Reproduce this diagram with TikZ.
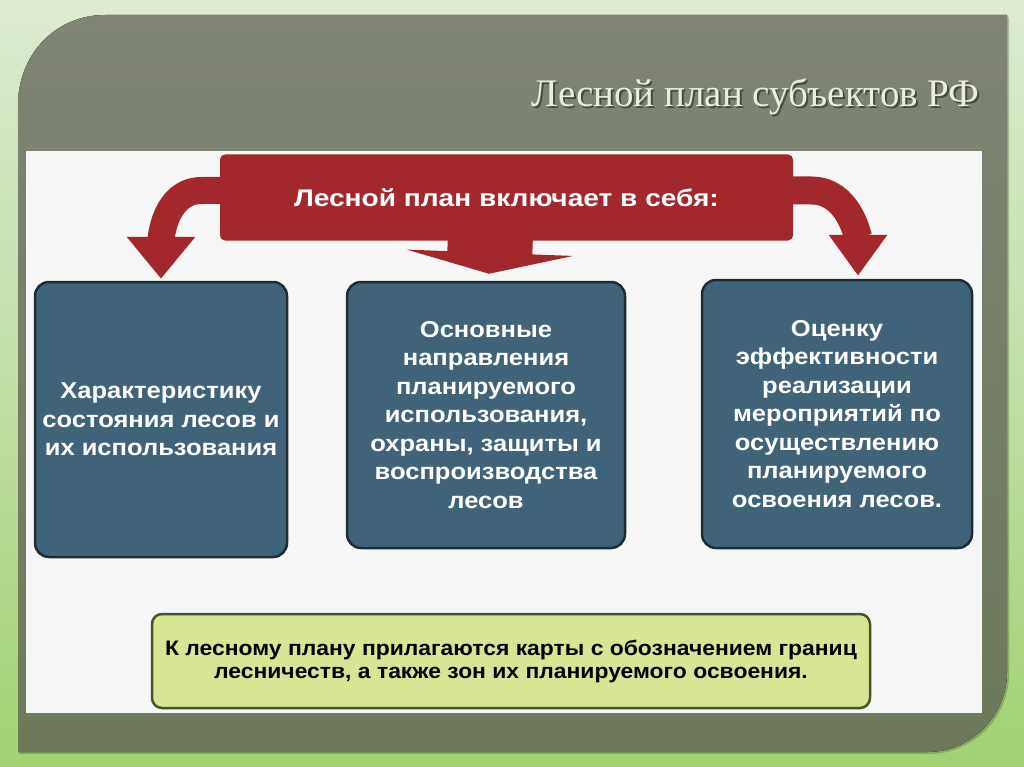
\documentclass[tikz,border=0pt]{standalone}
\usepackage{fontspec}
\setmainfont{Liberation Sans}
\newfontfamily\titlefont{Liberation Serif}
\newfontfamily\boxfont[FakeStretch=1.11]{Liberation Sans}
\newfontfamily\bannerfont[FakeStretch=1.17]{Liberation Sans}
\newfontfamily\notefont[FakeStretch=1.09]{Liberation Sans}
\usetikzlibrary{arrows.meta}
\definecolor{bgtop}{HTML}{DDEBD3}
\definecolor{bgbot}{HTML}{A3D173}
\definecolor{paneltop}{HTML}{7F8476}
\definecolor{panelbot}{HTML}{6E795B}
\definecolor{sheet}{HTML}{F7F7F7}
\definecolor{redc}{HTML}{A2282B}
\definecolor{bluec}{HTML}{3F6479}
\definecolor{blueborder}{HTML}{1E2B33}
\definecolor{greenc}{HTML}{D7E693}
\definecolor{greenborder}{HTML}{44532C}
\definecolor{titlec}{HTML}{EBEDE2}
\definecolor{titleshadow}{HTML}{2F332A}
\tikzset{
  bluebox/.style={draw=blueborder, line width=2.5pt, fill=bluec, rounded corners=14pt,
    text=white, align=center, inner sep=0pt,
    font=\boxfont\bfseries\fontsize{23}{28.5}\selectfont},
  banner/.style={fill=redc, rounded corners=5pt, text=white, inner sep=0pt,
    minimum width=573pt, minimum height=86pt, font=\bannerfont\bfseries\fontsize{24}{28}\selectfont},
  notebox/.style={draw=greenborder, line width=2.5pt, fill=greenc, rounded corners=10pt,
    text=black, align=center, inner sep=0pt, minimum width=718pt, minimum height=94pt,
    font=\notefont\bfseries\fontsize{21}{23}\selectfont},
  redarrow/.style={draw=redc, line cap=butt}
}
\begin{document}
\begin{tikzpicture}[x=1pt,y=-1pt]
\useasboundingbox (0,0) rectangle (1024,767);
% background
\fill[top color=bgtop, bottom color=bgbot] (0,0) rectangle (1024,767);
% panel shadow
\fill[black, opacity=0.18] (20,107) .. controls (20,57) and (57,17) .. (107,17) -- (1009,17) -- (1009,674)
  .. controls (1009,718) and (973,754) .. (929,754) -- (20,754) -- cycle;
% panel
\fill[top color=paneltop, bottom color=panelbot] (18,105) .. controls (18,55) and (55,15) .. (105,15) -- (1007,15) -- (1007,672)
  .. controls (1007,716) and (971,752) .. (927,752) -- (18,752) -- cycle;
% white sheet
\fill[sheet] (26,151) rectangle (982,713);
% title
\node[anchor=base east, text=titleshadow, opacity=0.7, font=\titlefont\fontsize{39}{39}\selectfont] (titleshadow) at (985,109) {Лесной план субъектов РФ};
\node[anchor=base east, text=titlec, font=\titlefont\fontsize{39}{39}\selectfont] (title) at (983,107) {Лесной план субъектов РФ};
% banner
\node[banner] (banner) at (506.5,197.5) {Лесной план включает в себя:};
% boxes
\node[bluebox, minimum width=252pt, minimum height=275pt] (box1) at (161,419.5)
  {Характеристику\\состояния лесов и\\их использования};
\node[bluebox, minimum width=278pt, minimum height=266pt] (box2) at (486,415)
  {Основные\\направления\\планируемого\\использования,\\охраны, защиты и\\воспроизводства\\лесов};
\node[bluebox, minimum width=270pt, minimum height=268pt] (box3) at (837,414)
  {Оценку\\эффективности\\реализации\\мероприятий по\\осуществлению\\планируемого\\освоения лесов.};
\node[notebox] (note) at (511,661)
  {К лесному плану прилагаются карты с обозначением границ\\лесничеств, а также зон их планируемого освоения.};
% arrows
\coordinate (t1) at ([yshift=2pt]box1.north);
\coordinate (t2) at ([xshift=3pt,yshift=7pt]box2.north);
\coordinate (t3) at ([xshift=21pt,yshift=3pt]box3.north);
\draw[redarrow, line width=27pt, -{Triangle[length=42pt,width=66pt]}]
  ([xshift=10pt,yshift=7pt]banner.west) -- ++(-28,0) to[out=180,in=90] (t1);
\draw[redarrow, line width=28pt, -{Triangle[length=41pt,width=56pt]}]
  ([xshift=-10pt,yshift=7pt]banner.east) -- ++(28,0) to[out=0,in=90] (t3);
\draw[redarrow, line width=85pt, -{Triangle[length=21pt,width=166pt]}]
  ([xshift=-16pt,yshift=6pt]banner.south) -- (t2);
\end{tikzpicture}
\end{document}
